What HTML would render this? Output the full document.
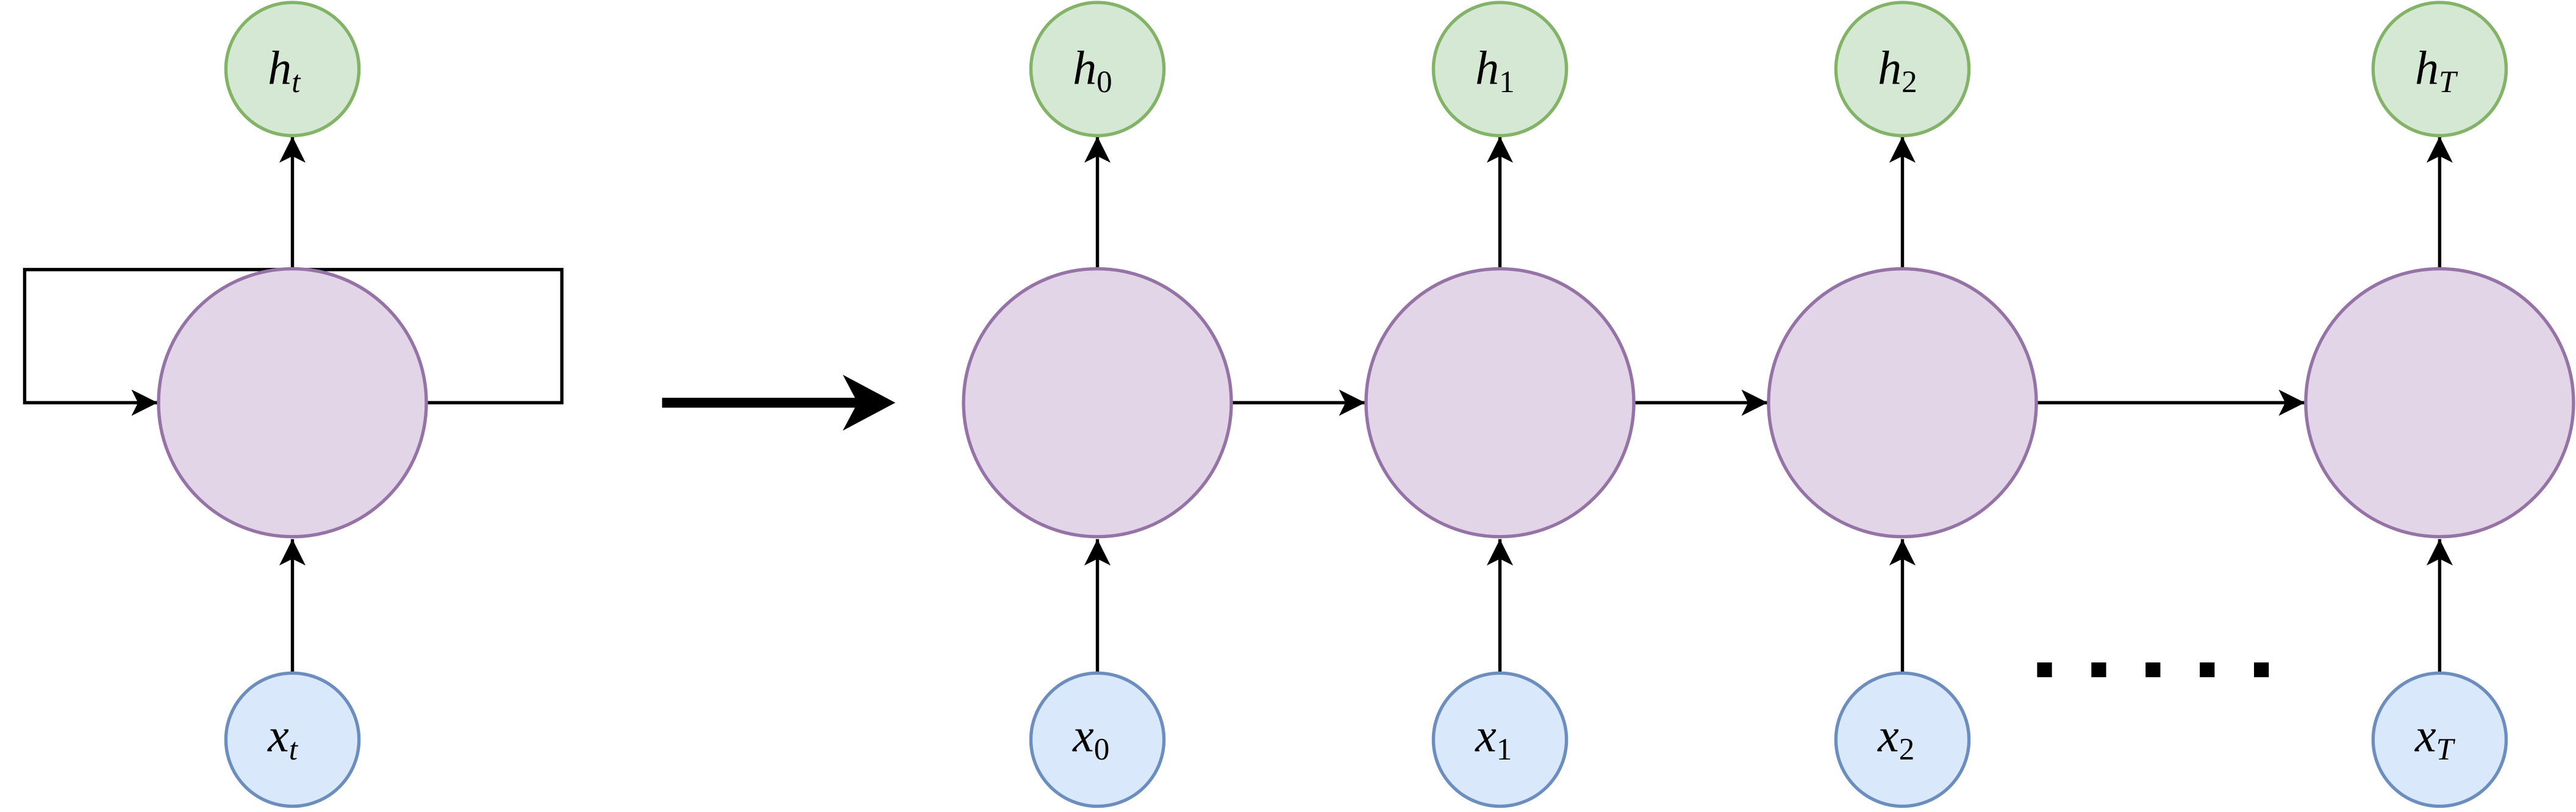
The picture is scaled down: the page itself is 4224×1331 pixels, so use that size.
<!DOCTYPE html>
<html><head><meta charset="utf-8"><style>
html,body{margin:0;padding:0;background:#fff;width:4224px;height:1331px;overflow:hidden}
svg{display:block}
text{font-family:"Liberation Serif",serif;font-style:italic}
</style></head><body>
<svg id="diag" width="4224" height="1331" viewBox="0 0 1568 494" preserveAspectRatio="none" xmlns="http://www.w3.org/2000/svg">
<defs>
<marker id="ah" markerWidth="16" markerHeight="16" refX="16" refY="8" orient="auto" markerUnits="userSpaceOnUse" viewBox="0 0 16 16">
<path d="M0,0 L16,8 L0,16 L4,8 Z" fill="#000"/></marker>
</defs>
<g id="g"></g>
</svg>
<script>
const cellXs=[178,668,913,1158,1485];
const hLabels=['t','0','1','2','T'];
const ns='http://www.w3.org/2000/svg';
const g=document.getElementById('g');
function el(t,a){const e=document.createElementNS(ns,t);for(const k in a)e.setAttribute(k,a[k]);g.appendChild(e);return e;}
let p=el('path',{d:'M178,164 L15,164 L15,245 L96,245',fill:'none',stroke:'#000','stroke-width':2,'marker-end':'url(#ah)'});


p=el('path',{d:'M178,164 L342,164 L342,245 L260,245',fill:'none',stroke:'#000','stroke-width':2});


p=el('line',{x1:403,y1:245,x2:525,y2:245,stroke:'#000','stroke-width':6});


p=el('path',{d:'M513,228 L545,245 L513,262 L522,245 Z',fill:'#000'});


for(let i=1;i<cellXs.length-1;i++){
  p=el('line',{x1:cellXs[i]+82,y1:245,x2:cellXs[i+1]-82,y2:245,stroke:'#000','stroke-width':2,'marker-end':'url(#ah)'});
  
  
}
cellXs.forEach((x,i)=>{
  const sub=hLabels[i];
  const st=/[0-9]/.test(sub)?'normal':'italic';
  let a=el('line',{x1:x,y1:164,x2:x,y2:83,stroke:'#000','stroke-width':2,'marker-end':'url(#ah)'});
  
  
  a=el('line',{x1:x,y1:409,x2:x,y2:328,stroke:'#000','stroke-width':2,'marker-end':'url(#ah)'});
  
  
  let c=el('circle',{cx:x,cy:245,r:81.5,fill:'#e1d5e7',stroke:'#9673a6','stroke-width':2});
  
  
  c=el('circle',{cx:x,cy:42,r:40.5,fill:'#d5e8d4',stroke:'#82b366','stroke-width':2});
  
  
  c=el('circle',{cx:x,cy:450,r:40.5,fill:'#dae8fc',stroke:'#6c8ebf','stroke-width':2});
  
  
  let t=el('text',{x:x-15,y:51,'font-size':29});
  t.innerHTML='h<tspan font-size="19" dy="5" font-style="'+st+'">'+sub+'</tspan>';
  
  
  t=el('text',{x:x-15,y:457,'font-size':29});
  t.innerHTML='x<tspan font-size="19" dy="5" font-style="'+st+'">'+sub+'</tspan>';
  
  
});
for(let k=0;k<5;k++){
  let r=el('rect',{x:1240+k*33,y:403,width:9,height:9,fill:'#000'});
  
  
}
</script>
</body></html>
